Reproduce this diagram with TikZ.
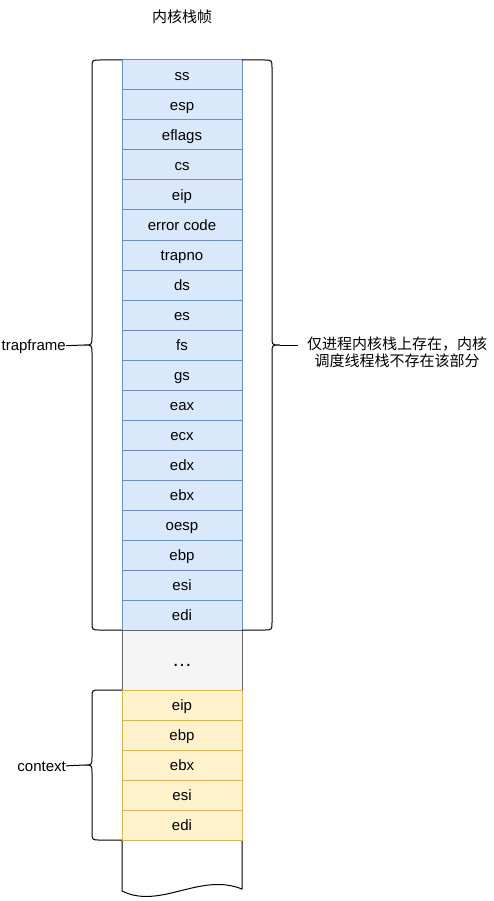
\documentclass[tikz,border=0pt]{standalone}
\usepackage{fontspec}
\setmainfont{Liberation Sans}
\newfontfamily\cjk{Noto Sans CJK SC}
\definecolor{blue1}{HTML}{DAE8FC}
\definecolor{blue2}{HTML}{6C8EBF}
\definecolor{gray1}{HTML}{F5F5F5}
\definecolor{gray2}{HTML}{666666}
\definecolor{yellow1}{HTML}{FFF2CC}
\definecolor{yellow2}{HTML}{D6B656}
\usetikzlibrary{positioning}

\tikzset{
    cell/.style={draw, line width=1pt, outer sep=0pt, inner sep=0pt, minimum width=120pt, minimum height=30pt, text height=12.5pt, text depth=1.2pt, font=\fontsize{15}{18}\selectfont},
    trapcell/.style={cell, fill=blue1, draw=blue2},
    ctxcell/.style={cell, fill=yellow1, draw=yellow2},
    brace/.style={draw, line width=1pt},
    lbl/.style={inner sep=0pt, font=\fontsize{15}{18}\selectfont}
}

\begin{document}
\begin{tikzpicture}[x=1pt, y=-1pt]
    \useasboundingbox (0,0) rectangle (493,901);

    % title
    \node[lbl] (title) at (182,17) {\cjk 内核栈帧};

    % bottom of the stack
    \draw[line width=1pt] (122,840) -- (122,891)
        .. controls (160,910) and (200,872) .. (242,889) -- (242,840);

    % trapframe cells
    \foreach \reg [count=\i] in {ss,esp,eflags,cs,eip,error code,trapno,ds,es,fs,gs,eax,ecx,edx,ebx,oesp,ebp,esi,edi}
        \node[trapcell] (t\i) at (182,45+30*\i) {\reg};

    % gap
    \node[cell, fill=gray1, draw=gray2, minimum height=60pt] (gap) at (182,660) {};
    \node[lbl, font=\fontsize{20}{20}\selectfont] (dots) at ([yshift=-5pt]gap.center) {\dots};

    % context cells
    \foreach \reg [count=\i] in {eip,ebp,ebx,esi,edi}
        \node[ctxcell] (c\i) at (182,675+30*\i) {\reg};

    % braces
    \coordinate (trapTip) at (84,345);
    \coordinate (kernTip) at (280,345);
    \coordinate (kernEnd) at (298,345);
    \coordinate (ctxTip) at (84,765);

    \path[brace] (122,60) -- (100,60) .. controls (92,60) .. (92,68)
        -- (92,337) .. controls (92,345) .. (trapTip) .. controls (92,345) .. (92,353)
        -- (92,622) .. controls (92,630) .. (100,630) -- (122,630);
    \path[brace] (242,60) -- (264,60) .. controls (272,60) .. (272,68)
        -- (272,337) .. controls (272,345) .. (kernTip) .. controls (272,345) .. (272,353)
        -- (272,622) .. controls (272,630) .. (264,630) -- (242,630);
    \path[brace] (122,690) -- (100,690) .. controls (92,690) .. (92,698)
        -- (92,757) .. controls (92,765) .. (ctxTip) .. controls (92,765) .. (92,773)
        -- (92,832) .. controls (92,840) .. (100,840) -- (122,840);

    % labels
    \node[lbl, anchor=east] (trap) at (66,347) {trapframe};
    \node[lbl, anchor=east] (ctx) at (66,767) {context};
    \node[lbl, anchor=west, align=center, font=\fontsize{15}{17}\selectfont\cjk] (kern) at (307,352)
        {仅进程内核栈上存在，内核\\调度线程栈不存在该部分};

    \draw[line width=1pt] (trap) -- (trapTip);
    \draw[line width=1pt] (ctx) -- (ctxTip);
    \draw[line width=1pt] (kernTip) -- (kernEnd);
\end{tikzpicture}
\end{document}
